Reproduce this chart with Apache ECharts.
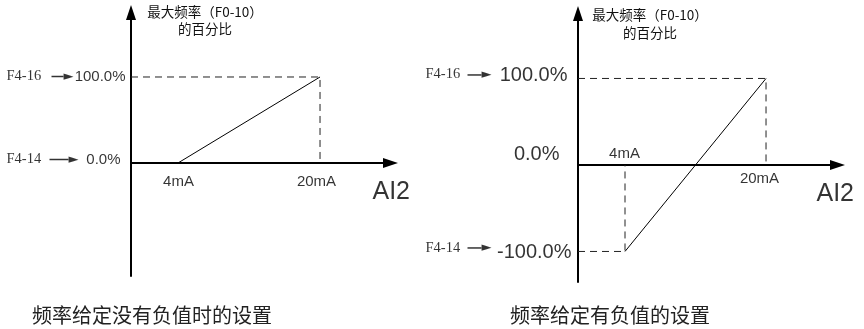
<!DOCTYPE html>
<html>
<head>
<meta charset="utf-8">
<script src="https://cdn.jsdelivr.net/npm/echarts@6/dist/echarts.min.js"></script>
<style>
html,body{margin:0;padding:0;background:#fff;}
#chart{width:864px;height:329px;}
</style>
</head>
<body>
<div id="chart"></div>
<script>
// ---- data ----
const xTickValues = [4, 20];
const xTickLabels = ['4mA', '20mA'];
const leftLineX = [4, 20];
const leftLineY = [0, 100];
const rightLineX = [4, 20];
const rightLineY = [-100, 100];
const leftPctValues = [100, 0];
const leftPctLabels = ['100.0%', '0.0%'];
const leftParams = ['F4-16', 'F4-14'];
const rightPctValues = [100, 0, -100];
const rightPctLabels = ['100.0%', '0.0%', '-100.0%'];
const rightParams = ['F4-16', '', 'F4-14'];
const yAxisTitle = '最大频率（F0-10）\n的百分比';
const xAxisName = 'AI2';
const captions = ['频率给定没有负值时的设置', '频率给定有负值的设置'];

// ---- axis ranges (schematic scales) ----
const L = {xMin: -1.296, xMax: 27.94, yMin: -131.4, yMax: 175.0};
const R = {xMin: -1.333, xMax: 28.11, yMin: -135.3, yMax: 175.1};

const SANS = 'Liberation Sans';
const SERIF = 'Liberation Serif';
const CJK = 'Noto Sans CJK SC';

function xAxisCfg(gi, r) {
  return {
    type: 'value', gridIndex: gi, min: r.xMin, max: r.xMax,
    axisLine: {show: true, onZero: true, symbol: ['none', 'triangle'], symbolSize: [10, 15],
      lineStyle: {color: '#000', width: 2}},
    axisTick: {show: false}, axisLabel: {show: false}, splitLine: {show: false}
  };
}
function yAxisCfg(gi, r) {
  return {
    type: 'value', gridIndex: gi, min: r.yMin, max: r.yMax,
    axisLine: {show: true, onZero: false, symbol: ['none', 'triangle'], symbolSize: [10, 15],
      lineStyle: {color: '#000', width: 2}},
    axisTick: {show: false}, axisLabel: {show: false}, splitLine: {show: false}
  };
}

function zip(xs, ys) { return xs.map((x, i) => [x, ys[i]]); }

function lineSeries(gi, xs, ys) {
  return {type: 'line', xAxisIndex: gi, yAxisIndex: gi, data: zip(xs, ys), symbol: 'none',
    lineStyle: {color: '#000', width: 1}, silent: true, clip: false, z: 3};
}
function guideSeries(gi, r, x, y) {
  return {type: 'line', xAxisIndex: gi, yAxisIndex: gi,
    data: [[r.xMin, y], [x, y], [x, 0]], symbol: 'none',
    lineStyle: {color: '#222', width: 1, type: [7, 5]}, silent: true, clip: false, z: 2};
}

function textItem(value, text, pos, font, size, align) {
  return {
    value: value,
    label: {show: true, formatter: text, position: pos, align: align || 'left', verticalAlign: 'middle',
      fontFamily: font, fontSize: size, color: '#000'}
  };
}
function arrowItem(value, pos, len) {
  return {
    value: value,
    label: {show: true, formatter: '{ln| }{hd|►}', position: pos, align: 'left', verticalAlign: 'middle',
      rich: {
        ln: {width: len - 11, height: 1.5, backgroundColor: '#000', fontSize: 1, verticalAlign: 'middle'},
        hd: {fontFamily: 'DejaVu Sans', fontSize: 13, color: '#000', verticalAlign: 'middle'}
      }}
  };
}

// left annotations
const leftItems = [
  textItem([L.xMin, leftPctValues[0]], leftParams[0], [-124, 0], SERIF, 14.5),
  arrowItem([L.xMin, leftPctValues[0]], [-79, 0], 23),
  textItem([L.xMin, leftPctValues[0]], leftPctLabels[0], [-5, 0], SANS, 15, 'right'),
  textItem([L.xMin, leftPctValues[1]], leftParams[1], [-124, -3], SERIF, 14.5),
  arrowItem([L.xMin, leftPctValues[1]], [-81, -3], 30),
  textItem([L.xMin, leftPctValues[1]], leftPctLabels[1], [-10, -3], SANS, 15, 'right'),
  textItem([xTickValues[0], 0], xTickLabels[0], [1, 19], SANS, 15, 'center'),
  textItem([xTickValues[1], 0], xTickLabels[1], [-3, 19], SANS, 15, 'center'),
  textItem([L.xMax, 0], xAxisName, [-17.5, 30], SANS, 25, 'left')
];
const rightItems = [
  textItem([R.xMin, rightPctValues[0]], rightParams[0], [-152, -4], SERIF, 14.5),
  arrowItem([R.xMin, rightPctValues[0]], [-110, -3], 25),
  textItem([R.xMin, rightPctValues[0]], rightPctLabels[0], [-10, -2], SANS, 20, 'right'),
  textItem([R.xMin, rightPctValues[1]], rightPctLabels[1], [-18, -10], SANS, 20, 'right'),
  textItem([R.xMin, rightPctValues[2]], rightParams[2], [-152, -3], SERIF, 14.5),
  arrowItem([R.xMin, rightPctValues[2]], [-110, -3], 25),
  textItem([R.xMin, rightPctValues[2]], rightPctLabels[2], [-6, 2], SANS, 20, 'right'),
  textItem([xTickValues[0], 0], xTickLabels[0], [0, -11], SANS, 15, 'center'),
  textItem([xTickValues[1], 0], xTickLabels[1], [-6, 14], SANS, 15, 'center'),
  textItem([R.xMax, 0], xAxisName, [-20.5, 30], SANS, 25, 'left')
];

function labelSeries(gi, items) {
  return {type: 'scatter', xAxisIndex: gi, yAxisIndex: gi, data: items, symbol: 'rect', symbolSize: 1,
    itemStyle: {color: 'rgba(0,0,0,0)'}, silent: true, clip: false, z: 5};
}

const titleStyle = {fontFamily: CJK, fontSize: 13.5, fontWeight: 'normal', color: '#111', lineHeight: 17};
const capStyle = {fontFamily: CJK, fontSize: 20, fontWeight: 'normal', color: '#222', lineHeight: 24};

const option = {
  animation: false,
  backgroundColor: '#fff',
  title: [
    {text: yAxisTitle, left: 205, top: 3.5, textAlign: 'center', padding: 0, textStyle: titleStyle},
    {text: yAxisTitle, left: 650, top: 6, textAlign: 'center', padding: 0, textStyle: Object.assign({}, titleStyle, {lineHeight: 18})},
    {text: captions[0], left: 32, top: 303, padding: 0, textStyle: capStyle},
    {text: captions[1], left: 510, top: 303, padding: 0, textStyle: capStyle}
  ],
  grid: [
    {left: 131, top: 12.5, width: 259.5, height: 263.5},
    {left: 578, top: 13.5, width: 259.5, height: 268.5}
  ],
  xAxis: [xAxisCfg(0, L), xAxisCfg(1, R)],
  yAxis: [yAxisCfg(0, L), yAxisCfg(1, R)],
  series: [
    guideSeries(0, L, leftLineX[1], leftLineY[1]),
    lineSeries(0, leftLineX, leftLineY),
    labelSeries(0, leftItems),
    guideSeries(1, R, rightLineX[1], rightLineY[1]),
    guideSeries(1, R, rightLineX[0], rightLineY[0]),
    lineSeries(1, rightLineX, rightLineY),
    labelSeries(1, rightItems)
  ]
};

const chart = echarts.init(document.getElementById('chart'), null, {renderer: 'canvas'});
chart.setOption(option);
</script>
</body>
</html>
